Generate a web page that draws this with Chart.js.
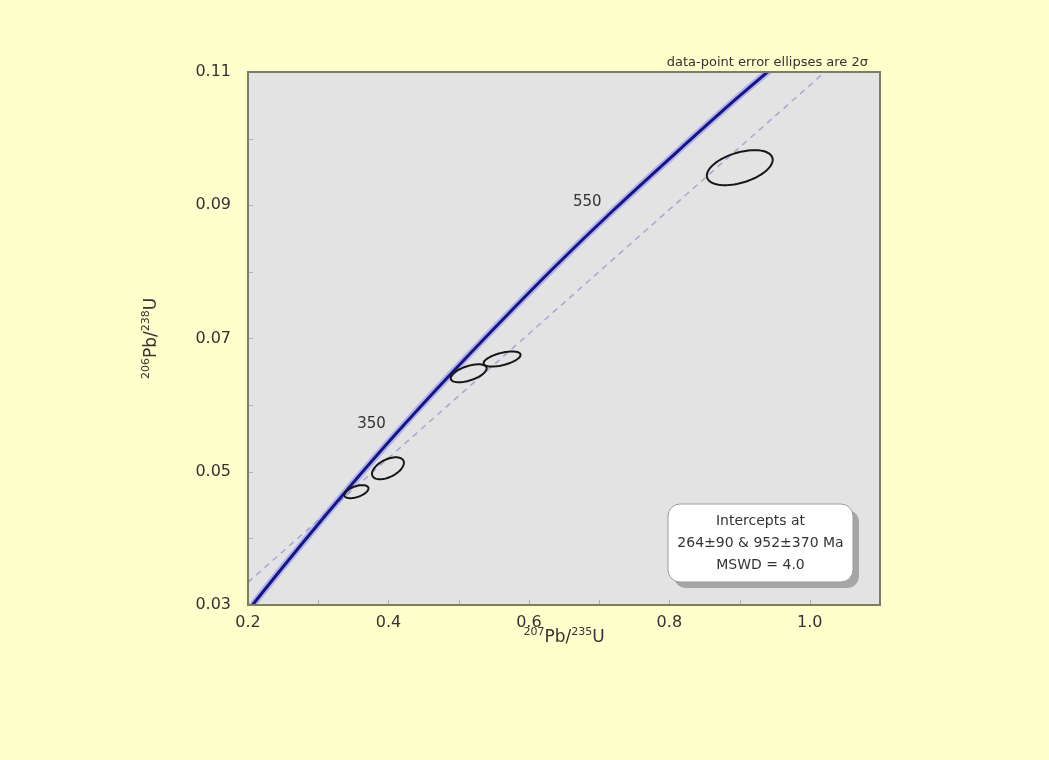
<!DOCTYPE html>
<html>
<head>
<meta charset="utf-8">
<script src="https://cdn.jsdelivr.net/npm/chart.js@4.4.1/dist/chart.umd.min.js"></script>
<style>
  html, body { margin: 0; padding: 0; background: #ffffcc; }
  #chart { display: block; }
</style>
</head>
<body>
<canvas id="chart" width="1049" height="760"></canvas>
<script>
// Concordia curve (age in Ma, 207Pb/235U, 206Pb/238U)
const concAge = [175, 200, 250, 300, 350, 400, 450, 500, 550, 600, 650, 700];
const concX = [0.1881, 0.2177, 0.2792, 0.3437, 0.4116, 0.4828, 0.5577, 0.6362, 0.7188, 0.8056, 0.8967, 0.9925];
const concY = [0.0275, 0.0315, 0.0395, 0.0476, 0.0558, 0.0640, 0.0723, 0.0807, 0.0891, 0.0975, 0.1061, 0.1147];

// Ages labelled on the concordia
const concLabels = [350, 550];

// Discordia (dashed regression line)
const discX = [0.2, 1.03];
const discY = [0.0334, 0.1108];

// Error ellipses: centre, half-widths, correlation
const ellX = [0.3544, 0.3993, 0.5143, 0.5618, 0.9003];
const ellY = [0.04701, 0.05052, 0.06478, 0.06692, 0.09564];
const ellSx = [0.0171, 0.0227, 0.0256, 0.0263, 0.0469];
const ellSy = [0.00098, 0.00165, 0.00135, 0.00113, 0.00263];
const ellRho = [0.5, 0.5, 0.55, 0.55, 0.45];

// Axis ranges and steps
const X_MIN = 0.2, X_MAX = 1.1, X_STEP = 0.1;
const Y_MIN = 0.03, Y_MAX = 0.11, Y_STEP = 0.01;

// Text
const NOTE_TEXT = "data-point error ellipses are 2\u03c3";
const BOX_LINES = ["Intercepts at", "264\u00b190 & 952\u00b1370 Ma", "MSWD = 4.0"];

const FONT = "'DejaVu Sans', 'Liberation Sans', sans-serif";
const TEXT_COLOR = "#333333";

const toPoints = (xs, ys) => xs.map((x, i) => ({ x: x, y: ys[i] }));

// Draws "207Pb/235U" style text with superscripts, centred at 0,0
const drawIsotopeText = (ctx, parts) => {
  let big = "17px " + FONT;
  let small = "11px " + FONT;
  let width = 0;
  parts.forEach((p) => {
    ctx.font = p.sup ? small : big;
    width += ctx.measureText(p.text).width;
  });
  let x = -width / 2;
  ctx.textAlign = "left";
  ctx.textBaseline = "alphabetic";
  parts.forEach((p) => {
    ctx.font = p.sup ? small : big;
    ctx.fillText(p.text, x, p.sup ? -1 : 6);
    x += ctx.measureText(p.text).width;
  });
};

const decorPlugin = {
  id: "decor",
  beforeDraw: (chart) => {
    const ctx = chart.ctx;
    const area = chart.chartArea;
    ctx.save();
    ctx.fillStyle = "#ffffcc";
    ctx.fillRect(0, 0, chart.width, chart.height);
    ctx.fillStyle = "#e3e3e3";
    ctx.fillRect(area.left, area.top, area.right - area.left, area.bottom - area.top);

    // inward ticks on the bottom and left edges
    ctx.strokeStyle = "#b4b4b4";
    ctx.lineWidth = 1;
    chart.scales.x.ticks.forEach((t) => {
      let px = Math.round(chart.scales.x.getPixelForValue(t.value)) + 0.5;
      ctx.beginPath();
      ctx.moveTo(px, area.bottom);
      ctx.lineTo(px, area.bottom - 5);
      ctx.stroke();
    });
    chart.scales.y.ticks.forEach((t) => {
      let py = Math.round(chart.scales.y.getPixelForValue(t.value)) + 0.5;
      ctx.beginPath();
      ctx.moveTo(area.left, py);
      ctx.lineTo(area.left + 5, py);
      ctx.stroke();
    });
    ctx.restore();
  },
  afterDatasetsDraw: (chart) => {
    const ctx = chart.ctx;
    const area = chart.chartArea;
    const xs = chart.scales.x;
    const ys = chart.scales.y;

    ctx.save();
    ctx.beginPath();
    ctx.rect(area.left, area.top, area.right - area.left, area.bottom - area.top);
    ctx.clip();

    // error ellipses
    ctx.strokeStyle = "#161616";
    ctx.lineWidth = 2;
    for (let i = 0; i < ellX.length; i++) {
      let k = Math.sqrt(1 - ellRho[i] * ellRho[i]);
      ctx.beginPath();
      for (let s = 0; s <= 72; s++) {
        let a = (s / 72) * Math.PI * 2;
        let dx = ellSx[i] * Math.cos(a);
        let dy = ellSy[i] * (ellRho[i] * Math.cos(a) + k * Math.sin(a));
        let px = xs.getPixelForValue(ellX[i] + dx);
        let py = ys.getPixelForValue(ellY[i] + dy);
        if (s === 0) ctx.moveTo(px, py); else ctx.lineTo(px, py);
      }
      ctx.closePath();
      ctx.stroke();
    }

    // age labels beside the concordia
    ctx.fillStyle = TEXT_COLOR;
    ctx.font = "15px " + FONT;
    ctx.textAlign = "center";
    ctx.textBaseline = "middle";
    concLabels.forEach((age) => {
      let i = concAge.indexOf(age);
      let px = xs.getPixelForValue(concX[i]);
      let py = ys.getPixelForValue(concY[i]);
      ctx.fillText(String(age), px - 25, py - 9);
    });
    ctx.restore();

    // plot frame
    ctx.save();
    ctx.strokeStyle = "#7d7d62";
    ctx.lineWidth = 2;
    ctx.strokeRect(area.left, area.top, area.right - area.left, area.bottom - area.top);

    // intercept box with shadow
    let bx = 668, by = 504, bw = 185, bh = 78;
    ctx.fillStyle = "#a6a6a6";
    ctx.beginPath();
    ctx.roundRect(bx + 6, by + 6, bw, bh, 12);
    ctx.fill();
    ctx.fillStyle = "#ffffff";
    ctx.strokeStyle = "#9a9a9a";
    ctx.lineWidth = 1;
    ctx.beginPath();
    ctx.roundRect(bx, by, bw, bh, 12);
    ctx.fill();
    ctx.stroke();
    ctx.fillStyle = TEXT_COLOR;
    ctx.font = "14px " + FONT;
    ctx.textAlign = "center";
    ctx.textBaseline = "middle";
    BOX_LINES.forEach((line, i) => {
      ctx.fillText(line, bx + bw / 2, by + 17 + i * 22);
    });

    // note above the frame
    ctx.font = "13px " + FONT;
    ctx.textAlign = "right";
    ctx.textBaseline = "alphabetic";
    ctx.fillText(NOTE_TEXT, area.right - 12, area.top - 6);

    // axis titles
    ctx.save();
    ctx.translate((area.left + area.right) / 2, 636);
    drawIsotopeText(ctx, [
      { text: "207", sup: true }, { text: "Pb/", sup: false },
      { text: "235", sup: true }, { text: "U", sup: false }
    ]);
    ctx.restore();

    ctx.save();
    ctx.translate(150, (area.top + area.bottom) / 2);
    ctx.rotate(-Math.PI / 2);
    drawIsotopeText(ctx, [
      { text: "206", sup: true }, { text: "Pb/", sup: false },
      { text: "238", sup: true }, { text: "U", sup: false }
    ]);
    ctx.restore();
    ctx.restore();
  }
};

const setup = () => {
  const chartElement = document.getElementById("chart").getContext("2d");
  new Chart(chartElement, {
    type: "scatter",
    data: {
      datasets: [
        {
          label: "Concordia",
          data: toPoints(concX, concY),
          showLine: true,
          borderColor: "#15158a",
          borderWidth: 3,
          pointRadius: 0,
          cubicInterpolationMode: "monotone"
        },
        {
          label: "Concordia halo",
          data: toPoints(concX, concY),
          showLine: true,
          borderColor: "rgba(120, 120, 235, 0.45)",
          borderWidth: 7,
          pointRadius: 0,
          cubicInterpolationMode: "monotone"
        },
        {
          label: "Discordia",
          data: toPoints(discX, discY),
          showLine: true,
          borderColor: "#a3a9d2",
          borderWidth: 1.5,
          borderDash: [6, 5],
          pointRadius: 0
        }
      ]
    },
    options: {
      responsive: false,
      animation: false,
      layout: { padding: { top: 72, right: 169, left: 0, bottom: 0 } },
      plugins: {
        legend: { display: false },
        tooltip: { enabled: false }
      },
      scales: {
        x: {
          type: "linear",
          min: X_MIN,
          max: X_MAX,
          grid: { display: false },
          border: { display: false },
          afterFit: (scale) => { scale.height = 155; },
          ticks: {
            stepSize: X_STEP,
            padding: 0,
            maxRotation: 0,
            autoSkip: false,
            color: TEXT_COLOR,
            font: { family: FONT, size: 16 },
            callback: (v) => {
              let r = Math.round(v * 10);
              return (r % 2 === 0 && r <= 10) ? (r / 10).toFixed(1) : "";
            }
          }
        },
        y: {
          type: "linear",
          min: Y_MIN,
          max: Y_MAX,
          grid: { display: false },
          border: { display: false },
          afterFit: (scale) => { scale.width = 248; },
          ticks: {
            stepSize: Y_STEP,
            padding: 9,
            autoSkip: false,
            color: TEXT_COLOR,
            font: { family: FONT, size: 16 },
            callback: (v) => {
              let r = Math.round(v * 100);
              return (r % 2 === 1) ? (r / 100).toFixed(2) : "";
            }
          }
        }
      }
    },
    plugins: [decorPlugin]
  });
};

window.addEventListener("load", setup);
</script>
</body>
</html>
